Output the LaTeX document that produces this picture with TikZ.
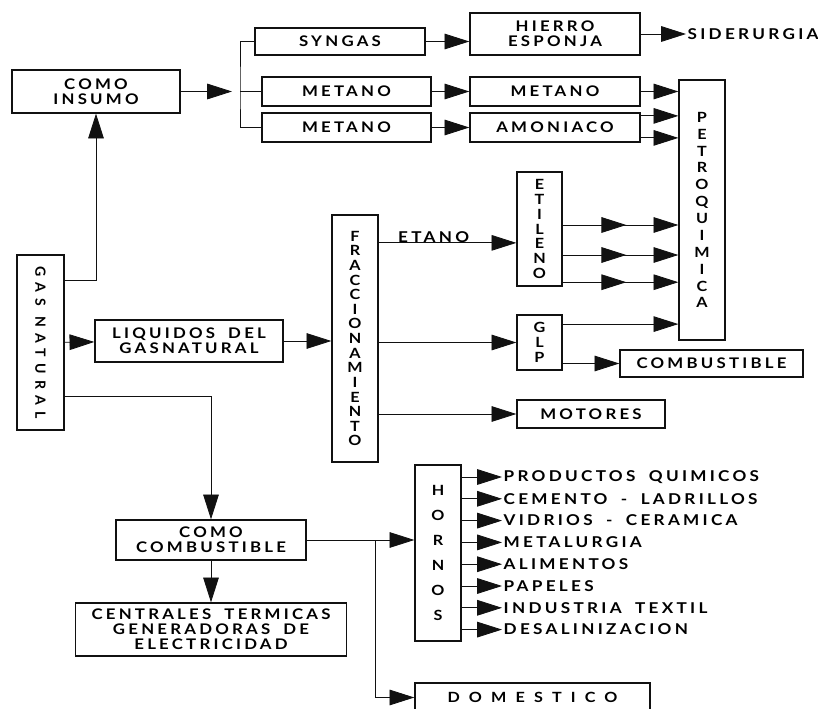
\documentclass[tikz,border=0pt]{standalone}
\usepackage{fontspec}
\setmainfont{Lato}
\newfontfamily\diafont[LetterSpace=22,FakeStretch=1.15,WordSpace=1.8]{Lato Bold}
\newfontfamily\widefont[LetterSpace=45]{Lato Bold}
\newfontfamily\spacedfont[LetterSpace=65,FakeStretch=1.15]{Lato Bold}
\usetikzlibrary{arrows.meta,positioning,calc,decorations.markings}
\definecolor{ink}{HTML}{111111}
\tikzset{
  box/.style    ={draw=ink, fill=white, line width=0.9pt, inner sep=1pt,
                  align=center, font=\diafont\fontsize{10.4}{10.8}\selectfont},
  vbox/.style   ={box, minimum width=1.15cm,
                  font=\diafont\fontsize{10}{10.6}\selectfont},
  arr/.style    ={-{Triangle[length=6.2mm,width=3.9mm]}, line width=0.6pt, draw=ink},
  link/.style   ={line width=0.6pt, draw=ink},
  midarr/.style ={postaction={decorate}, decoration={markings,
                  mark=at position 0.55 with {\arrow{Triangle[length=6.2mm,width=3.9mm]}}}},
  item/.style   ={font=\diafont\fontsize{10.6}{11}\selectfont, inner sep=1pt},
}
\begin{document}
\begin{tikzpicture}[x=0.025cm,y=-0.025cm]
  \useasboundingbox (0,0) rectangle (818,709);

  % natural gas and its first uses
  \node[box,minimum width=1.175cm,minimum height=4.375cm] (gas) at (40.5,342.5) {};
  \node[rotate=-90,font=\widefont\fontsize{10}{10.5}\selectfont] (gastxt) at (gas.center) {GAS NATURAL};
  \node[box,minimum width=4.2cm,minimum height=1.075cm] (insumo) at (96,91.5) {COMO\\INSUMO};
  \node[box,minimum width=4.7cm,minimum height=1.05cm] (liquidos) at (189,341) {LIQUIDOS DEL\\GASNATURAL};
  \node[box,minimum width=4.75cm,minimum height=1.0cm] (comocomb) at (211,540) {COMO\\COMBUSTIBLE};
  \node[box,minimum width=6.775cm,minimum height=1.325cm] (centrales) at (211,629.5)
       {CENTRALES TERMICAS\\GENERADORAS DE\\ELECTRICIDAD};

  % as feedstock
  \node[box,minimum width=4.25cm,minimum height=0.675cm] (syngas) at (340,41.5) {SYNGAS};
  \node[box,minimum width=4.225cm,minimum height=0.725cm] (metA) at (346.5,91.5) {METANO};
  \node[box,minimum width=4.225cm,minimum height=0.725cm] (metB) at (346.5,127.5) {METANO};
  \node[box,minimum width=4.25cm,minimum height=1.05cm] (hierro) at (555,34) {HIERRO\\ESPONJA};
  \node[item,anchor=west] (sider) at (686,34) {SIDERURGIA};
  \node[box,minimum width=4.25cm,minimum height=0.725cm] (metC) at (555,91.5) {METANO};
  \node[box,minimum width=4.25cm,minimum height=0.725cm] (amoniaco) at (555,127.5) {AMONIACO};
  \node[vbox,minimum height=6.5cm,font=\diafont\fontsize{10}{12}\selectfont] (petro) at (702,210)
       {P\\E\\T\\R\\O\\Q\\U\\I\\M\\I\\C\\A};
  \coordinate (split) at (240,91.5);

  % liquids
  \node[vbox,minimum height=6.175cm,font=\diafont\fontsize{10}{10.4}\selectfont] (fracc) at (355,338.5)
       {F\\R\\A\\C\\C\\I\\O\\N\\A\\M\\I\\E\\N\\T\\O};
  \node[vbox,minimum width=1.125cm,minimum height=2.85cm] (etileno) at (539.5,229)
       {E\\T\\I\\L\\E\\N\\O};
  \node[vbox,minimum width=1.125cm,minimum height=1.375cm] (glp) at (539.5,342.5) {G\\L\\P};
  \node[box,minimum width=4.575cm,minimum height=0.675cm] (combustible) at (711.5,363.5) {COMBUSTIBLE};
  \node[box,minimum width=3.7cm,minimum height=0.7cm] (motores) at (591,414) {MOTORES};

  % as fuel
  \node[vbox,minimum height=4.4cm,font=\diafont\fontsize{10}{17.7}\selectfont] (hornos) at (438,553)
       {H\\O\\R\\N\\O\\S};
  \node[box,minimum width=5.875cm,minimum height=0.725cm,font=\spacedfont\fontsize{10}{10.5}\selectfont]
       (domestico) at (532.5,697.5) {DOMESTICO};
  \coordinate (branch) at (375,540);

  \foreach \txt [count=\i] in {PRODUCTOS QUIMICOS,CEMENTO - LADRILLOS,VIDRIOS - CERAMICA,
      METALURGIA,ALIMENTOS,PAPELES,INDUSTRIA TEXTIL,DESALINIZACION}{
    \node[item,anchor=west] (use\i) at (502,455.2+21.8*\i) {\txt};
    \draw[arr] (use\i.west -| hornos.east) -- (use\i.west);
  }

  \draw[arr] ([yshift=1.56cm]gas.east) -| (insumo.south);
  \draw[arr] (gas) -- (liquidos);
  \draw[arr] ([yshift=-1.36cm]gas.east) -| (comocomb.north);
  \draw[arr] (insumo) -- ([xshift=-2mm]split);
  \draw[link] (syngas.west) -| (split) |- (metB.west);
  \draw[link] (split) -- (metA.west);
  \draw[arr] (syngas.east) -- (syngas.east -| hierro.west);
  \draw[arr] (hierro) -- (sider);
  \draw[arr] (metA) -- (metC);
  \draw[arr] (metB) -- (amoniaco);
  \draw[arr] (metC.east) -- (metC.east -| petro.west);
  \draw[arr] ([yshift=0.29cm]amoniaco.east) -- ([yshift=0.29cm]amoniaco.east -| petro.west);
  \draw[arr] ([yshift=-0.26cm]amoniaco.east) -- ([yshift=-0.26cm]amoniaco.east -| petro.west);

  \draw[arr] (liquidos) -- (liquidos -| fracc.west);
  \draw[arr] ([yshift=2.39cm]fracc.east) -- ([yshift=2.39cm]fracc.east -| etileno.west)
       node[pos=0.4,above=-1pt,item] (etano) {ETANO};
  \foreach \dy in {0.1cm,-0.65cm,-1.33cm}
    \draw[arr,midarr] ([yshift=\dy]etileno.east) -- ([yshift=\dy]etileno.east -| petro.west);
  \draw[arr] (glp.west -| fracc.east) -- (glp.west);
  \draw[arr] (motores.west -| fracc.east) -- (motores.west);
  \draw[arr] ([yshift=0.46cm]glp.east) -- ([yshift=0.46cm]glp.east -| petro.west);
  \draw[arr] (combustible.west -| glp.east) -- (combustible.west);

  \draw[arr] (comocomb.south) -- (comocomb.south |- centrales.north);
  \draw[arr] (comocomb.east) -- (comocomb.east -| hornos.west);
  \draw[arr] (branch) |- (domestico.west);
\end{tikzpicture}
\end{document}
